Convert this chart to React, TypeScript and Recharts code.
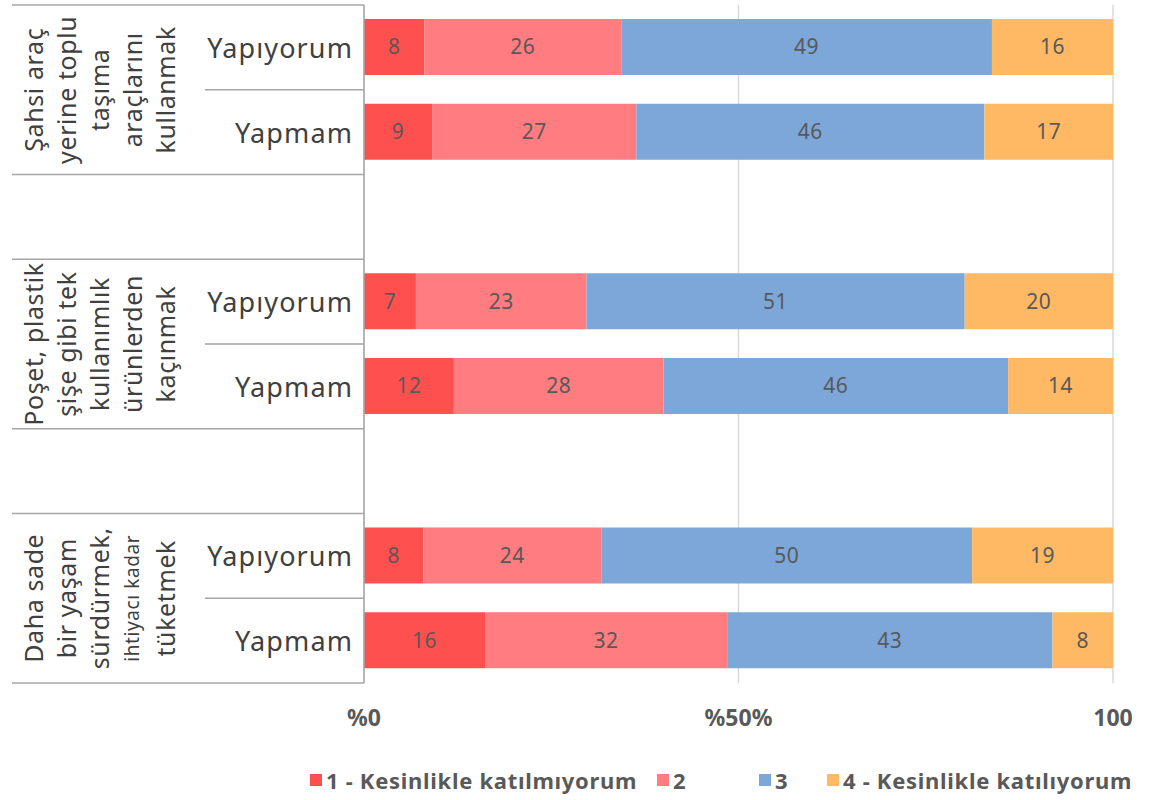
import { BarChart, Bar, XAxis, YAxis, CartesianGrid, Legend, LabelList } from "recharts";

const FONT = "'Noto Sans', sans-serif";
const TEXT = "#404040";
const LABEL = "#595959";
const RULE = "#A6A6A6";

// rows: two answers per statement, with an empty spacer row between statements
const rowLabels = ["Yapıyorum", "Yapmam", "", "Yapıyorum", "Yapmam", "", "Yapıyorum", "Yapmam"];
const rowGroup = [0, 0, -1, 1, 1, -1, 2, 2];

const groupLines = [
  ["Şahsi araç", "yerine toplu", "taşıma", "araçlarını", "kullanmak"],
  ["Poşet, plastik", "şişe gibi tek", "kullanımlık", "ürünlerden", "kaçınmak"],
  ["Daha sade", "bir yaşam", "sürdürmek,", "ihtiyacı kadar", "tüketmek"],
];

const seriesNames = ["1 - Kesinlikle katılmıyorum", "2", "3", "4 - Kesinlikle katılıyorum"];
const s1 = [8, 9, null, 7, 12, null, 8, 16];
const s2 = [26, 27, null, 23, 28, null, 24, 32];
const s3 = [49, 46, null, 51, 46, null, 50, 43];
const s4 = [16, 17, null, 20, 14, null, 19, 8];

const xTicks = [0, 0.5, 1];
const xTickLabels = ["%0", "%50%", "100"];

const colors = ["#FF5050", "#FF7C80", "#7DA7D9", "#FFB964"];
const legendWidths = [347, 102, 68, 320];

const data = rowLabels.map((label, i) => ({
  idx: i,
  label,
  v1: s1[i],
  v2: s2[i],
  v3: s3[i],
  v4: s4[i],
}));

// layout
const W = 1151;
const H = 800;
const TOP = 5;
const PLOT_LEFT = 364;
const PLOT_BOTTOM = 683;
const BAND = (PLOT_BOTTOM - TOP) / rowLabels.length;
const TABLE_LEFT = 12;
const SUB_LEFT = 205;

const RowTick = (props: any) => {
  const { y, payload } = props;
  const i = payload.value as number;
  const g = rowGroup[i];
  if (g < 0) return null;
  const first = i === 0 || rowGroup[i - 1] !== g;
  const top = y - BAND / 2;
  const bottom = y + BAND / 2;
  return (
    <g>
      <text
        x={353}
        y={y}
        textAnchor="end"
        dominantBaseline="central"
        fontFamily={FONT}
        fontSize={27}
        letterSpacing={1.1}
        fill={TEXT}
      >
        {rowLabels[i]}
      </text>
      {first ? (
        <>
          <line x1={TABLE_LEFT} x2={PLOT_LEFT} y1={top} y2={top} stroke={RULE} strokeWidth={1.5} />
          <line x1={SUB_LEFT} x2={PLOT_LEFT} y1={bottom} y2={bottom} stroke={RULE} strokeWidth={1.5} />
          {groupLines[g].map((ln, k) => (
            <text
              key={k}
              transform={`translate(${33 + k * 33},${bottom}) rotate(-90)`}
              textAnchor="middle"
              dominantBaseline="central"
              fontFamily={FONT}
              fontSize={ln.length > 13 && g === 2 ? 19 : 25}
              letterSpacing={0.6}
              fill={TEXT}
            >
              {ln}
            </text>
          ))}
        </>
      ) : (
        <line x1={TABLE_LEFT} x2={PLOT_LEFT} y1={bottom} y2={bottom} stroke={RULE} strokeWidth={1.5} />
      )}
    </g>
  );
};

const PctTick = (props: any) => {
  const { x, y, payload, index } = props;
  return (
    <text
      x={x}
      y={y + 34}
      textAnchor="middle"
      dominantBaseline="central"
      fontFamily={FONT}
      fontWeight="bold"
      fontSize={23}
      fill={LABEL}
    >
      {xTickLabels[index] ?? payload.value}
    </text>
  );
};

const LegendBox = (props: any) => {
  const items = props.payload || [];
  return (
    <div style={{ display: "flex", alignItems: "center", height: 40, paddingLeft: 310, fontFamily: FONT }}>
      {items.map((it: any, k: number) => (
        <div key={k} style={{ display: "flex", alignItems: "center", width: legendWidths[k], flexShrink: 0 }}>
          <span style={{ width: 12, height: 12, background: it.color, marginRight: 4, display: "inline-block" }} />
          <span style={{ fontSize: 22, letterSpacing: 0.7, fontWeight: 700, color: LABEL, whiteSpace: "nowrap" }}>
            {it.value}
          </span>
        </div>
      ))}
    </div>
  );
};

export default function App() {
  const keys = ["v1", "v2", "v3", "v4"];
  return (
    <div style={{ position: "absolute", left: 0, top: 0, width: W, height: H, background: "#fff" }}>
      <BarChart
        width={W}
        height={H}
        data={data}
        layout="vertical"
        stackOffset="expand"
        margin={{ top: TOP, right: W - 1113, left: 0, bottom: 0 }}
      >
        <CartesianGrid horizontal={false} stroke="#D9D9D9" strokeWidth={1.5} />
        <XAxis
          type="number"
          domain={[0, 1]}
          ticks={xTicks}
          axisLine={false}
          tickLine={false}
          tickSize={0}
          tickMargin={0}
          height={77}
          tick={<PctTick />}
          interval={0}
        />
        <YAxis
          type="category"
          dataKey="idx"
          width={PLOT_LEFT}
          axisLine={{ stroke: RULE, strokeWidth: 1.5 }}
          tickLine={false}
          tick={<RowTick />}
          interval={0}
        />
        <Legend
          verticalAlign="bottom"
          height={40}
          wrapperStyle={{ left: 0, width: W, bottom: 0 }}
          content={<LegendBox />}
        />
        {keys.map((k, s) => (
          <Bar key={k} dataKey={k} name={seriesNames[s]} stackId="a" fill={colors[s]} barSize={56} isAnimationActive={false}>
            <LabelList dataKey={k} position="center" fill={LABEL} fontSize={21} letterSpacing={0.5} fontFamily={FONT} />
          </Bar>
        ))}
      </BarChart>
    </div>
  );
}
